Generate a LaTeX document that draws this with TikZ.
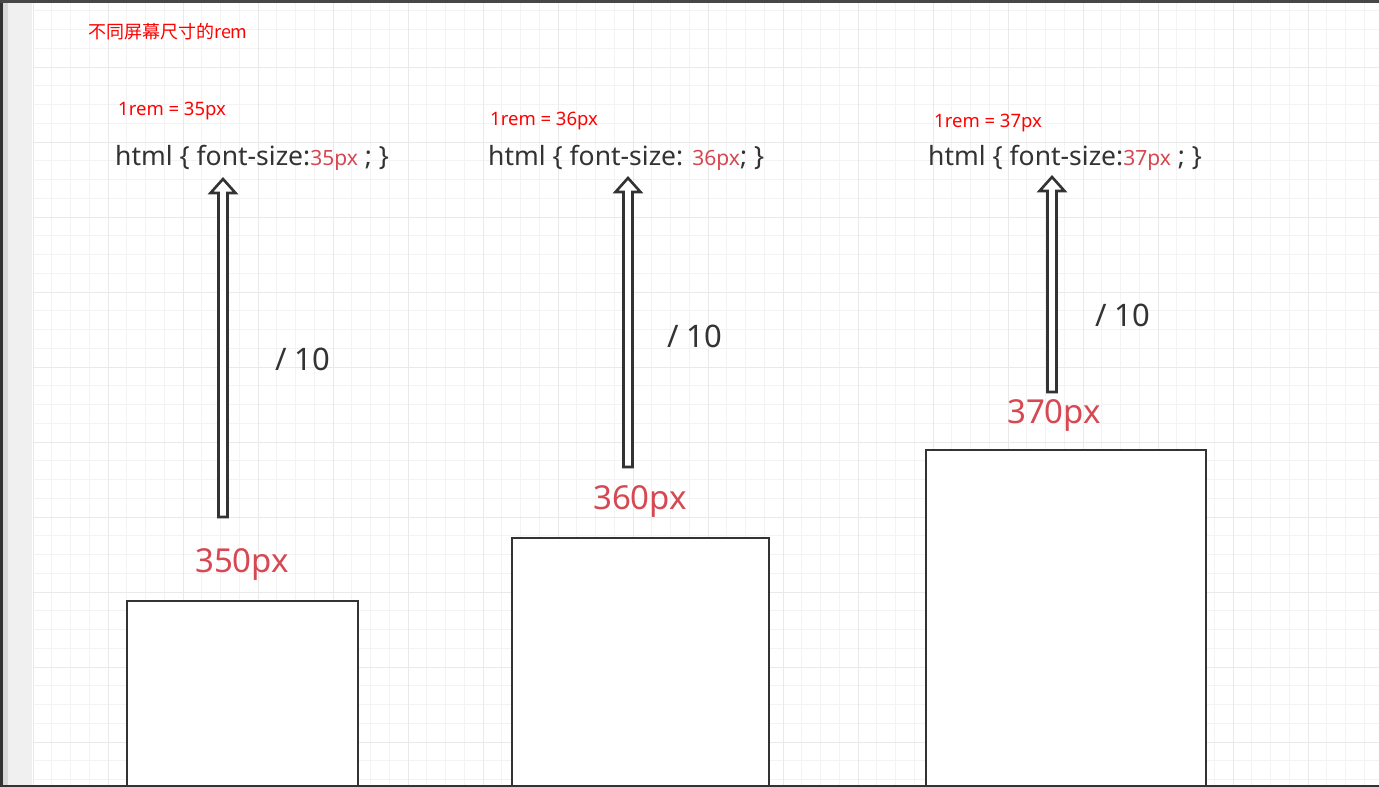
\documentclass[tikz,border=0pt]{standalone}
\usepackage{fontspec}
\setmainfont{Noto Sans}
\newfontfamily\cjk{Noto Sans CJK SC}
\usetikzlibrary{calc}

\definecolor{gridminor}{RGB}{243,243,243}
\definecolor{gridmajor}{RGB}{233,233,233}
\definecolor{inkgray}{RGB}{51,51,51}
\definecolor{pxred}{RGB}{214,72,82}
\definecolor{stripgray}{RGB}{240,240,240}

% hollow up-arrow from a bottom coordinate to a tip coordinate
\newcommand\hollowarrow[2]{%
  \draw[hollow] ($(#1)+(-4.5,0)$) -- ($(#2)+(-4.5,14)$) -- ($(#2)+(-12.5,14)$)
    -- (#2) -- ($(#2)+(12.5,14)$) -- ($(#2)+(4.5,14)$) -- ($(#1)+(4.5,0)$) -- cycle;}

\begin{document}
\begin{tikzpicture}[
  x=1pt,y=-1pt,
  txt/.style={inner sep=0pt,anchor=west},
  remtext/.style={txt,text=red,font=\fontsize{18.5}{20}\selectfont},
  csstext/.style={txt,text=inkgray,font=\fontsize{26.5}{30}\selectfont},
  divtext/.style={txt,text=inkgray,font=\fontsize{31}{34}\selectfont},
  pxtext/.style={txt,text=pxred,font=\fontsize{33}{36}\selectfont},
  screen/.style={draw=inkgray,line width=2.4pt,fill=white,anchor=north west,inner sep=0pt},
  hollow/.style={draw=inkgray,line width=2.6pt,fill=white,line join=miter}
]
\useasboundingbox (0,0) rectangle (1379,787);
\fill[white] (0,0) rectangle (1379,787);

% grid
\foreach \i [evaluate=\i as \gx using 33+18.75*\i] in {0,...,71}
  \draw[gridminor,line width=0.9pt] (\gx,3) -- (\gx,785);
\foreach \j [evaluate=\j as \gy using -8+18.75*\j] in {1,...,42}
  \draw[gridminor,line width=0.9pt] (33,\gy) -- (1379,\gy);
\foreach \i [evaluate=\i as \gx using 33+18.75*\i] in {0,4,...,68}
  \draw[gridmajor,line width=1pt] (\gx,3) -- (\gx,785);
\foreach \j [evaluate=\j as \gy using -8+18.75*\j] in {4,8,...,40}
  \draw[gridmajor,line width=1pt] (33,\gy) -- (1379,\gy);

% window frame
\fill[stripgray] (0,0) rectangle (32,787);
\fill[gray!30] (0,0) rectangle (7.5,787);
\fill[inkgray] (0,0) rectangle (2.5,787);
\fill[inkgray!90] (0,0) rectangle (1379,3);

\node[txt,text=red,font=\cjk\fontsize{18}{20}\selectfont] (title) at (88,32) {不同屏幕尺寸的rem};

% screens
\node[screen,minimum width=231,minimum height=200] (screen1) at (126,600) {};
\node[screen,minimum width=257,minimum height=260] (screen2) at (511,537) {};
\node[screen,minimum width=280,minimum height=350] (screen3) at (925,449) {};

\node[remtext] (rem1) at (118,111) {1rem = 35px};
\node[remtext] (rem2) at (490,121) {1rem = 36px};
\node[remtext] (rem3) at (934,123) {1rem = 37px};

\node[csstext] (css1) at (115,158) {html \{ font-size:{\color{pxred}\fontsize{21}{24}\selectfont 35px} ; \}};
\node[csstext] (css2) at (488,158) {html \{ font-size: {\color{pxred}\fontsize{21}{24}\selectfont 36px}; \}};
\node[csstext] (css3) at (928,158) {html \{ font-size:{\color{pxred}\fontsize{21}{24}\selectfont 37px} ; \}};

\node[pxtext] (px1) at (195,564) {350px};
\node[pxtext] (px2) at (593,501) {360px};
\node[pxtext] (px3) at (1007,415) {370px};

\node[divtext] (div1) at (275,359) {/ 10};
\node[divtext] (div2) at (667,336) {/ 10};
\node[divtext] (div3) at (1095,315) {/ 10};

% arrows
\coordinate (base1) at (223,517);
\coordinate (tip1) at (223,179);
\coordinate (base2) at (628,467);
\coordinate (tip2) at (628,178);
\coordinate (base3) at (1052,392);
\coordinate (tip3) at (1052,177);
\hollowarrow{base1}{tip1}
\hollowarrow{base2}{tip2}
\hollowarrow{base3}{tip3}

\fill[inkgray] (0,784.5) rectangle (1379,787);
\end{tikzpicture}
\end{document}
